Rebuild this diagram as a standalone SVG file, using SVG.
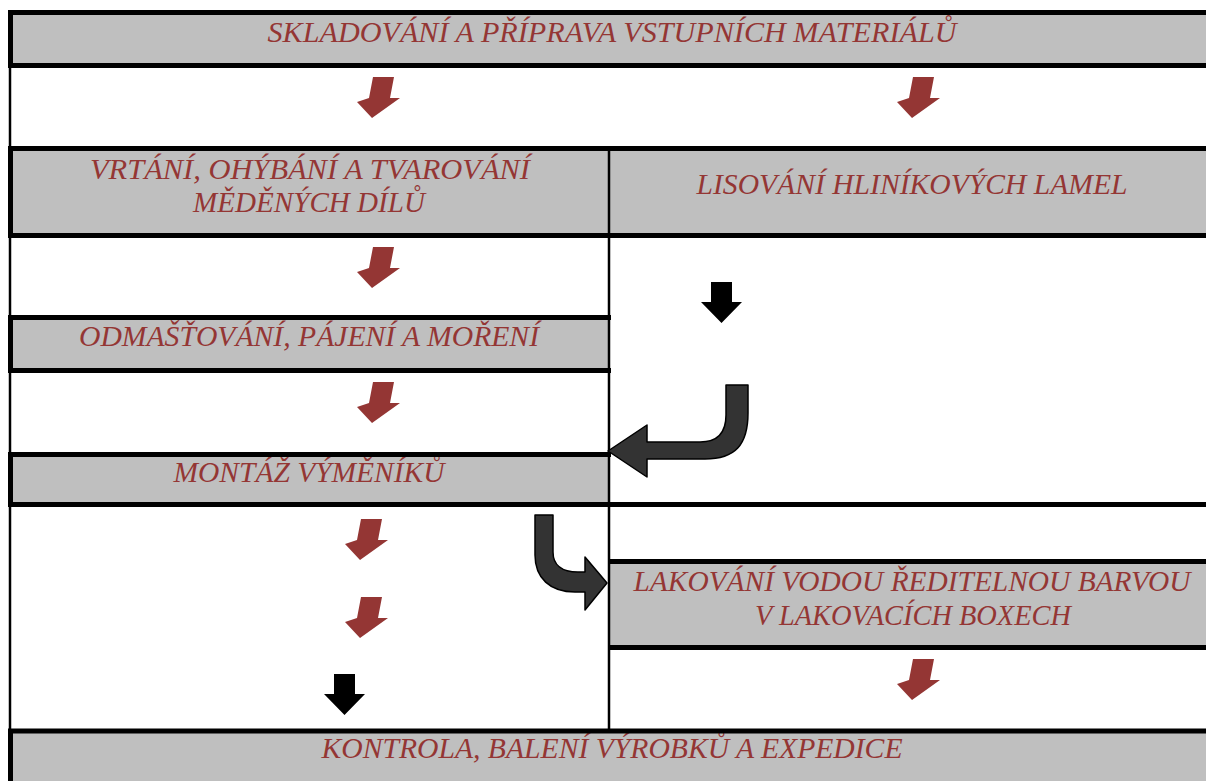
<svg xmlns="http://www.w3.org/2000/svg" width="1206" height="781" viewBox="0 0 1206 781">
<style>
.cell{fill:#BFBFBF;stroke:none}
.thick{stroke:#000;stroke-width:5;fill:none}
.thin{stroke:#000;stroke-width:2.5;fill:none}
.lbl{font-family:"Liberation Serif","DejaVu Serif",serif;font-style:italic;font-size:29px;fill:#943634;text-anchor:middle}
.red{fill:#943634}
.blk{fill:#000}
.curve{fill:#333333;stroke:#000;stroke-width:1.5;stroke-linejoin:round}
</style>
<defs>
<path id="redArrow" d="M33,7 L54,7 L50,28 L60,28 L32,48 L17,32 L29,28 Z"/>
<path id="blkArrow" d="M10,0 L31,0 L31,20 L41,20 L20.5,41 L0,20 L10,20 Z"/>
</defs>
<rect width="1206" height="781" fill="#fff"/>

<g id="node-sklad">
<rect class="cell" x="10" y="12" width="1200" height="54"/>
<text class="lbl" x="612" y="42" textLength="689" lengthAdjust="spacingAndGlyphs">SKLADOVÁNÍ A PŘÍPRAVA VSTUPNÍCH MATERIÁLŮ</text>
</g>
<g id="node-vrtani">
<rect class="cell" x="10" y="148" width="599" height="88"/>
<text class="lbl" x="310" y="179" textLength="440" lengthAdjust="spacingAndGlyphs">VRTÁNÍ, OHÝBÁNÍ A TVAROVÁNÍ</text>
<text class="lbl" x="309" y="212" textLength="232" lengthAdjust="spacingAndGlyphs">MĚDĚNÝCH DÍLŮ</text>
</g>
<g id="node-lisovani">
<rect class="cell" x="609" y="148" width="600" height="88"/>
<text class="lbl" x="912" y="194" textLength="431" lengthAdjust="spacingAndGlyphs">LISOVÁNÍ HLINÍKOVÝCH LAMEL</text>
</g>
<g id="node-odmastovani">
<rect class="cell" x="10" y="317" width="599" height="54"/>
<text class="lbl" x="309" y="346" textLength="460" lengthAdjust="spacingAndGlyphs">ODMAŠŤOVÁNÍ, PÁJENÍ A MOŘENÍ</text>
</g>
<g id="node-montaz">
<rect class="cell" x="10" y="454" width="599" height="51"/>
<text class="lbl" x="309" y="482" textLength="271" lengthAdjust="spacingAndGlyphs">MONTÁŽ VÝMĚNÍKŮ</text>
</g>
<g id="node-lakovani">
<rect class="cell" x="609" y="561" width="600" height="87"/>
<text class="lbl" x="912" y="591" textLength="557" lengthAdjust="spacingAndGlyphs">LAKOVÁNÍ VODOU ŘEDITELNOU BARVOU</text>
<text class="lbl" x="913" y="625" textLength="316" lengthAdjust="spacingAndGlyphs">V LAKOVACÍCH BOXECH</text>
</g>
<g id="node-kontrola">
<rect class="cell" x="10" y="730" width="1200" height="51"/>
<text class="lbl" x="612" y="758" textLength="581" lengthAdjust="spacingAndGlyphs">KONTROLA, BALENÍ VÝROBKŮ A EXPEDICE</text>
</g>

<g id="grid">
<line class="thick" x1="8" y1="12.5" x2="1206" y2="12.5"/>
<line class="thick" x1="8" y1="65.5" x2="1206" y2="65.5"/>
<line class="thick" x1="8" y1="148.5" x2="1206" y2="148.5"/>
<line class="thick" x1="8" y1="235.5" x2="1206" y2="235.5"/>
<line class="thick" x1="8" y1="317.5" x2="611" y2="317.5"/>
<line class="thick" x1="8" y1="370.5" x2="611" y2="370.5"/>
<line class="thick" x1="8" y1="454.5" x2="611" y2="454.5"/>
<line class="thick" x1="8" y1="504.5" x2="1206" y2="504.5"/>
<line class="thick" x1="609" y1="561.5" x2="1206" y2="561.5"/>
<line class="thick" x1="609" y1="647.5" x2="1206" y2="647.5"/>
<line class="thick" x1="8" y1="731" x2="1206" y2="731"/>
<line class="thick" x1="10.5" y1="10" x2="10.5" y2="68"/>
<line class="thick" x1="10.5" y1="146" x2="10.5" y2="238"/>
<line class="thick" x1="10.5" y1="315" x2="10.5" y2="373"/>
<line class="thick" x1="10.5" y1="452" x2="10.5" y2="507"/>
<line class="thick" x1="10.5" y1="729" x2="10.5" y2="781"/>
<line class="thin" x1="10" y1="68" x2="10" y2="146"/>
<line class="thin" x1="10" y1="238" x2="10" y2="315"/>
<line class="thin" x1="10" y1="373" x2="10" y2="452"/>
<line class="thin" x1="10" y1="507" x2="10" y2="729"/>
<line class="thin" x1="609" y1="146" x2="609" y2="731"/>
</g>

<g id="connectors">
<use href="#redArrow" class="red" transform="translate(340,70)"/>
<use href="#redArrow" class="red" transform="translate(880,70)"/>
<use href="#redArrow" class="red" transform="translate(340,240)"/>
<use href="#redArrow" class="red" transform="translate(340,375)"/>
<use href="#redArrow" class="red" transform="translate(328,512)"/>
<use href="#redArrow" class="red" transform="translate(328,590)"/>
<use href="#redArrow" class="red" transform="translate(880,652)"/>
<use href="#blkArrow" class="blk" transform="translate(701,282)"/>
<use href="#blkArrow" class="blk" transform="translate(324,674)"/>
<path class="curve" d="M726,385 L748,385 L748,413 C748,445 735,459 705,459 L647,459 L647,477 L608,451 L647,425 L647,442 L700,442 C718,442 726,432 726,415 Z"/>
<path class="curve" d="M535,515 L553,515 L553,552 C553,565 562,572 578,572 L585,572 L585,557 L607,583 L585,610 L585,592 L575,592 C550,592 535,578 535,555 Z"/>
</g>
</svg>
